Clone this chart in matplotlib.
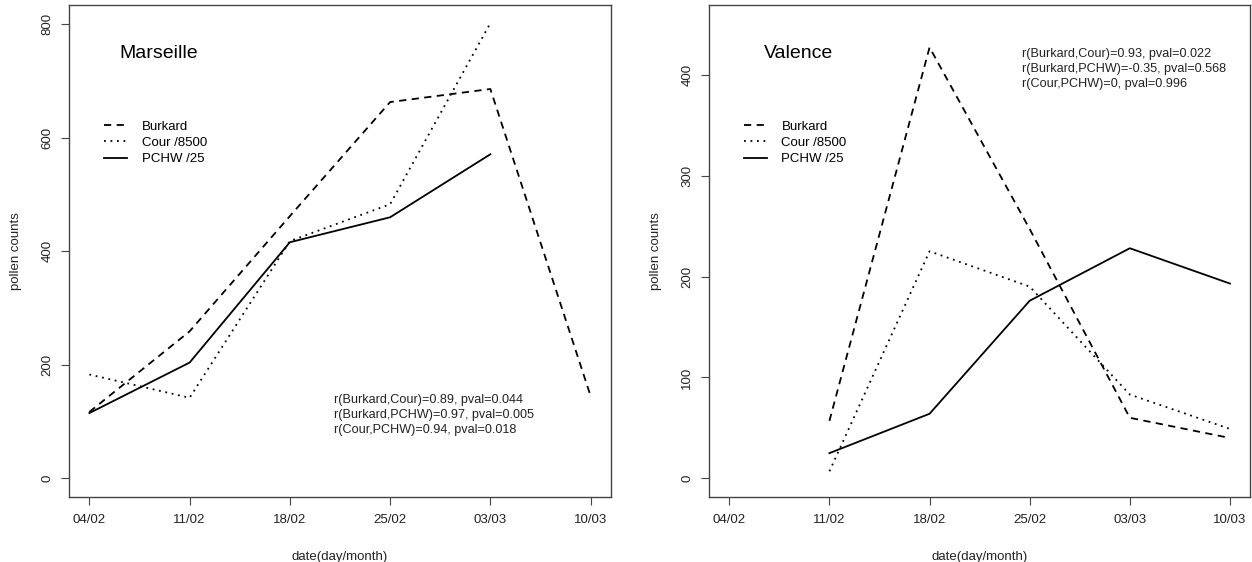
import matplotlib
matplotlib.use("Agg")
import matplotlib.pyplot as plt

plt.rcParams['font.family'] = ['Liberation Sans', 'DejaVu Sans']

dates = ["04/02", "11/02", "18/02", "25/02", "03/03", "10/03"]

# Marseille
mar_burkard = [117, 259, 462, 663, 686, 145]
mar_cour = [183, 142, 418, 483, 802, None]
mar_pchw = [115, 204, 416, 460, 571, None]
mar_corr = ["r(Burkard,Cour)=0.89, pval=0.044",
            "r(Burkard,PCHW)=0.97, pval=0.005",
            "r(Cour,PCHW)=0.94, pval=0.018"]

# Valence
val_burkard = [None, 57, 427, 247, 60, 40]
val_cour = [None, 7, 225, 190, 83, 49]
val_pchw = [None, 25, 64, 176, 228, 193]
val_corr = ["r(Burkard,Cour)=0.93, pval=0.022",
            "r(Burkard,PCHW)=-0.35, pval=0.568",
            "r(Cour,PCHW)=0, pval=0.996"]

labels = ["Burkard", "Cour /8500", "PCHW /25"]
styles = [(0, (4, 3)), (0, (1, 2.6)), '-']

FS = 9.5
SPINE = '#444444'


def clean(vals):
    xs = [i for i, v in enumerate(vals) if v is not None]
    ys = [v for v in vals if v is not None]
    return xs, ys


def panel(fig, rect, series, yticks, ylim, title, title_x, corr, corr_x, corr_y):
    ax = fig.add_axes(rect)
    for vals, lab, ls in zip(series, labels, styles):
        xs, ys = clean(vals)
        ax.plot(xs, ys, color='black', lw=1.3, linestyle=ls, label=lab)
    ax.set_xlim(-0.2, 5.2)
    ax.set_ylim(*ylim)
    ax.set_xticks(range(len(dates)))
    ax.set_xticklabels(dates, fontsize=FS, color='#222222')
    ax.set_yticks(yticks)
    ax.set_yticklabels([str(t) for t in yticks], fontsize=FS, color='#222222',
                       rotation=90, va='center')
    ax.tick_params(axis='both', direction='out', length=5.5, width=0.8,
                   color=SPINE)
    ax.tick_params(axis='x', pad=7)
    ax.tick_params(axis='y', pad=6)
    for s in ax.spines.values():
        s.set_color(SPINE)
        s.set_linewidth(1.0)
    ax.set_xlabel("date(day/month)", fontsize=FS, color='#222222', labelpad=18)
    ax.set_ylabel("pollen counts", fontsize=FS, color='#222222', labelpad=14)
    ax.text(title_x, 0.9007, title, transform=ax.transAxes, fontsize=14,
            va='center', ha='left')
    for i, line in enumerate(corr):
        ax.text(corr_x, corr_y - i * 0.0302, line, transform=ax.transAxes,
                fontsize=9.1, va='center', ha='left', color='#222222')
    ax.legend(loc='upper left', bbox_to_anchor=(0.064, 0.765), frameon=False,
              fontsize=FS, handlelength=1.75, handletextpad=1.1,
              labelspacing=0.3, borderpad=0, borderaxespad=0)
    return ax


fig = plt.figure(figsize=(12.52, 5.62), dpi=100)

panel(fig, [0.05535, 0.1165, 0.4324, 0.8746],
      [mar_burkard, mar_cour, mar_pchw], [0, 200, 400, 600, 800], (-32, 834),
      "Marseille", 0.0933, mar_corr, 0.489, 0.196)

panel(fig, [0.5665, 0.1165, 0.4319, 0.8746],
      [val_burkard, val_cour, val_pchw], [0, 100, 200, 300, 400], (-18, 469),
      "Valence", 0.1004, val_corr, 0.5785, 0.900)

fig.savefig("out.png", dpi=100)
